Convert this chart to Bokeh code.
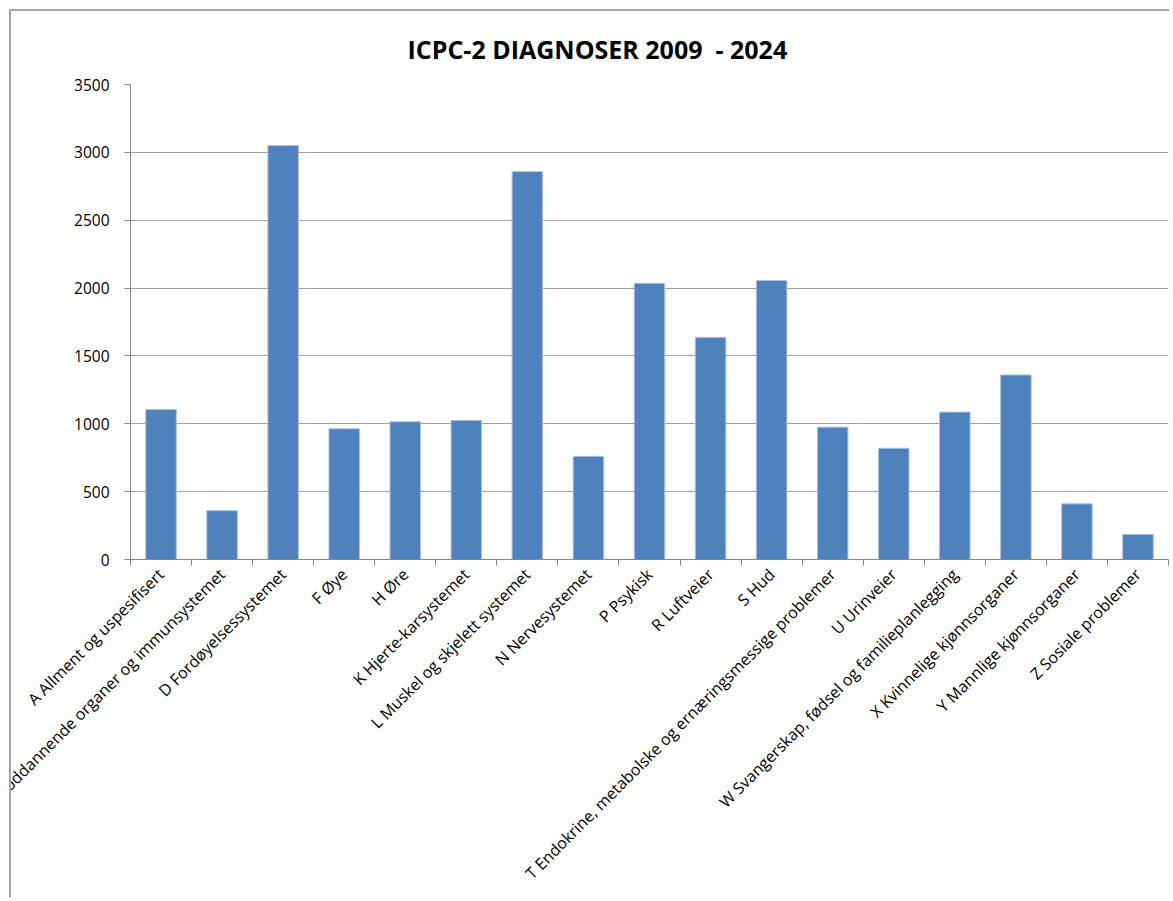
import math
from bokeh.plotting import figure
from bokeh.models import FixedTicker, ColumnDataSource, Range1d
from bokeh.embed import file_html
from bokeh.resources import INLINE

categories = [
    "A Allment og uspesifisert",
    "B Blod, bloddannende organer og immunsystemet",
    "D Fordøyelsessystemet",
    "F Øye",
    "H Øre",
    "K Hjerte-karsystemet",
    "L Muskel og skjelett systemet",
    "N Nervesystemet",
    "P Psykisk",
    "R Luftveier",
    "S Hud",
    "T Endokrine, metabolske og ernæringsmessige problemer",
    "U Urinveier",
    "W Svangerskap, fødsel og familieplanlegging",
    "X Kvinnelige kjønnsorganer",
    "Y Mannlige kjønnsorganer",
    "Z Sosiale problemer",
]
values = [1105, 360, 3050, 963, 1015, 1025, 2858, 760, 2035, 1637, 2056, 975, 820, 1086, 1360, 410, 185]
y_ticks = [0, 500, 1000, 1500, 2000, 2500, 3000, 3500]
title_text = "ICPC-2 DIAGNOSER 2009\u00a0 - 2024"

FONT = "Open Sans"
idx = list(range(len(categories)))
src = ColumnDataSource(dict(x=idx, top=values))

p = figure(
    width=1160, height=888,
    output_backend="svg", toolbar_location=None,
    x_range=Range1d(-0.5, len(categories) - 0.5),
    y_range=Range1d(0, 3500),
    min_border_left=119, min_border_right=3,
    min_border_top=72, min_border_bottom=340,
    title=title_text,
)
p.styles = {
    "border-left": "2px solid #a6a6a6",
    "border-top": "2px solid #a6a6a6",
    "margin-left": "9px",
    "margin-top": "9px",
}
p.outline_line_color = None
p.background_fill_color = "white"
p.border_fill_color = "white"

p.title.text_font = FONT
p.title.text_font_size = "25px"
p.title.text_font_style = "bold"
p.title.text_color = "#000000"
p.title.align = "left"
p.title.offset = 277
p.title.standoff = 37

p.vbar(x="x", top="top", width=0.5, source=src,
       fill_color="#4F81BD", line_color="#a9c1e0", line_width=1)

# x axis
xa = p.xaxis[0]
xa.ticker = FixedTicker(ticks=idx, minor_ticks=[i - 0.5 for i in range(len(categories) + 1)])
xa.major_label_overrides = {i: c for i, c in enumerate(categories)}
xa.major_label_orientation = math.pi / 4
xa.major_tick_in = 0
xa.major_tick_out = 0
xa.major_tick_line_color = None
xa.minor_tick_in = 0
xa.minor_tick_out = 6
xa.minor_tick_line_color = "#888888"
xa.axis_line_color = "#888888"
xa.major_label_standoff = 6
xa.major_label_text_font = FONT
xa.major_label_text_font_size = "16px"
xa.major_label_text_color = "#000000"

# y axis
ya = p.yaxis[0]
ya.ticker = FixedTicker(ticks=y_ticks)
ya.major_tick_in = 0
ya.major_tick_out = 6
ya.minor_tick_line_color = None
ya.major_tick_line_color = "#888888"
ya.axis_line_color = "#888888"
ya.major_label_standoff = 15
ya.major_label_text_font = FONT
ya.major_label_text_font_size = "15.5px"
ya.major_label_text_color = "#000000"

p.xgrid.grid_line_color = None
p.ygrid.grid_line_color = "#a0a0a0"
p.ygrid.ticker = FixedTicker(ticks=y_ticks)

open("out.html", "w").write(file_html(p, INLINE))
